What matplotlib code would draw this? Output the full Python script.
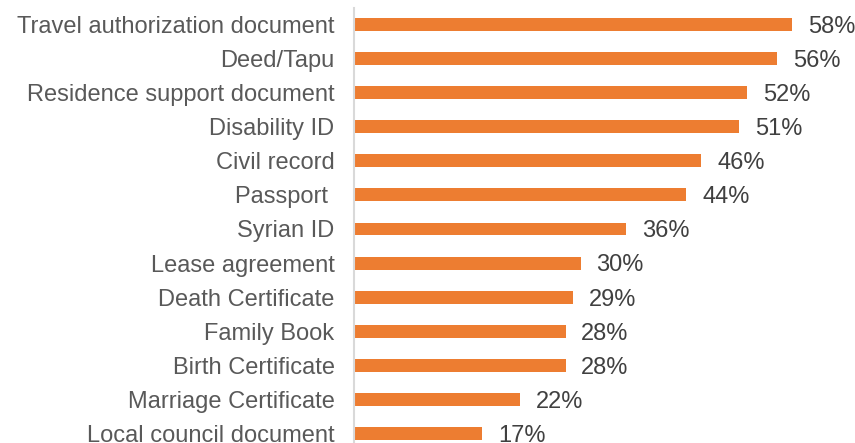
import matplotlib
matplotlib.use("Agg")
import matplotlib.pyplot as plt

plt.rcParams["font.family"] = ["Liberation Sans", "DejaVu Sans"]

# Share of respondents lacking each document (%)
documents = [
    "Travel authorization document",
    "Deed/Tapu",
    "Residence support document",
    "Disability ID",
    "Civil record",
    "Passport ",
    "Syrian ID",
    "Lease agreement",
    "Death Certificate",
    "Family Book",
    "Birth Certificate",
    "Marriage Certificate",
    "Local council document",
]
shares = [58, 56, 52, 51, 46, 44, 36, 30, 29, 28, 28, 22, 17]

BAR_COLOR = "#ED7D31"
LABEL_COLOR = "#595959"
VALUE_COLOR = "#404040"

fig = plt.figure(figsize=(8.55, 4.43), dpi=100)
ax = fig.add_axes([354 / 855, 0, 491 / 855, 435 / 443])

pos = list(range(len(documents)))
ax.barh(pos, shares, height=0.38, color=BAR_COLOR, left=0)

for y, v in zip(pos, shares):
    ax.text(v + 2.1, y + 0.07, f"{v}%", va="center", ha="left",
            fontsize=17, color=VALUE_COLOR)

ax.set_xlim(0, 65)
ax.set_ylim(12.28, -0.484)
ax.set_yticks(pos)
ax.set_yticklabels(documents, fontsize=17, color=LABEL_COLOR)
ax.tick_params(axis="y", length=0, pad=14)
ax.set_xticks([])

for side in ("top", "right", "bottom"):
    ax.spines[side].set_visible(False)
ax.spines["left"].set_color("#D9D9D9")
ax.spines["left"].set_linewidth(1.5)

fig.savefig("out.png", dpi=100)
